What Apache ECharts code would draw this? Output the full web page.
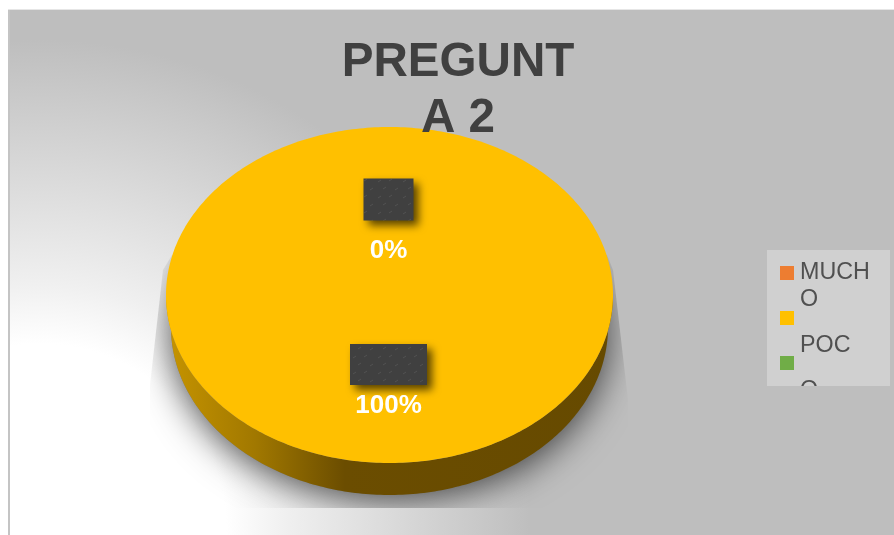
<!DOCTYPE html>
<html><head><meta charset="utf-8">
<style>html,body{margin:0;padding:0;background:#fff}#c{width:894px;height:535px}</style>
<script src="https://cdn.jsdelivr.net/npm/echarts@6/dist/echarts.min.js"></script>
</head><body><div id="c"></div>
<script>
const categories = ['MUCHO', 'POCO'];
const values = [0, 100];
const percentLabels = ['0%', '100%'];
const sliceColors = ['#ED7D31', '#FFC000'];
const legendColors = ['#ED7D31', '#FFC000', '#70AD47'];
const legendLines = ['MUCH', 'O', 'POC', 'O'];
const titleText = 'PREGUNT\nA 2';

const FONT = '"Liberation Sans", Arial, sans-serif';
const G = {cx: 389.5, cy: 295, rx: 223.5, ry: 168, depth: 32, inset: 5};
const LABEL = [
  {w: 50, h: 42, dy: -95.5, ty: -44},
  {w: 77, h: 41, dy: 69.5, ty: 111}
];
const LEGEND = {x: 767, y: 250, w: 123, h: 136, mx: 780, my: [266, 311, 356], ms: 14, tx: 800, tb: [279, 306, 352, 397]};
const total = values.reduce((a, b) => a + b, 0);

function pattern() {
  const c = document.createElement('canvas');
  c.width = 25; c.height = 16;
  const x = c.getContext('2d');
  x.fillStyle = '#404040'; x.fillRect(0, 0, 25, 16);
  x.strokeStyle = '#525252'; x.lineWidth = 1;
  [[3, 4], [14, 3], [8, 11], [20, 12]].forEach(p => {
    x.beginPath(); x.moveTo(p[0], p[1] + 2); x.lineTo(p[0] + 3, p[1]); x.stroke();
  });
  return {image: c, repeat: 'repeat'};
}
const boxFill = pattern();

function arc(a0, a1, dy, inset) {
  const pts = [];
  const n = Math.max(2, Math.ceil(Math.abs(a1 - a0) * 60));
  for (let i = 0; i <= n; i++) {
    const a = a0 + (a1 - a0) * i / n;
    pts.push([G.cx + (G.rx - (inset || 0)) * Math.cos(a), G.cy + dy + G.ry * Math.sin(a)]);
  }
  return pts;
}

function renderShadow() {
  return {
    type: 'polygon',
    shape: {points: arc(0, Math.PI * 2, G.depth, G.inset)},
    style: {fill: '#7a7a7a', shadowBlur: 36, shadowOffsetY: 6, shadowColor: 'rgba(0,0,0,0.68)'},
    clipPath: {type: 'polygon', shape: {points: [[172, 255], [163, 270], [150, 385], [150, 508], [628, 508], [628, 400], [613, 270], [607, 255]]}}
  };
}

function renderSlice(params, api) {
  const i = params.dataIndex;
  let start = -Math.PI / 2;
  for (let k = 0; k < i; k++) start += values[k] / total * Math.PI * 2;
  const v = api.value(1);
  const sweep = v / total * Math.PI * 2;
  const end = start + sweep;
  const children = [];
  if (sweep > 0) {
    const s0 = Math.max(start, 0), s1 = Math.min(end, Math.PI);
    if (s1 > s0) {
      const top = arc(s0, s1, 0), bot = arc(s1, s0, G.depth, G.inset);
      children.push({
        type: 'polygon', shape: {points: top.concat(bot)},
        style: {fill: {type: 'linear', x: G.cx - G.rx, y: 0, x2: G.cx + G.rx, y2: 0, global: true,
          colorStops: [{offset: 0, color: '#C69400'}, {offset: 0.2, color: '#A17800'}, {offset: 0.4, color: '#6B4D00'}, {offset: 1, color: '#664A00'}]}}
      });
    }
    const pts = arc(start, end, 0);
    if (sweep < Math.PI * 2) pts.push([G.cx, G.cy]);
    children.push({type: 'polygon', shape: {points: pts}, style: {fill: sliceColors[i]}});
  }
  const L = LABEL[i];
  children.push({
    type: 'rect', z2: 5,
    shape: {x: G.cx - L.w / 2 - 1, y: G.cy + L.dy - L.h / 2, width: L.w, height: L.h},
    style: {fill: boxFill, shadowBlur: 8, shadowOffsetX: 5, shadowOffsetY: 5, shadowColor: 'rgba(0,0,0,0.65)'}
  });
  children.push({
    type: 'text', z2: 6,
    style: {text: percentLabels[i], x: G.cx - 1, y: G.cy + L.ty, align: 'center', verticalAlign: 'middle',
      font: 'bold 26px ' + FONT, fill: '#fff', shadowBlur: 2, shadowColor: 'rgba(255,255,255,0.6)'}
  });
  return {type: 'group', children};
}

function renderLegend(params) {
  const i = params.dataIndex;
  const L = LEGEND, children = [];
  if (i < legendColors.length) {
    children.push({type: 'rect', shape: {x: L.mx, y: L.my[i], width: L.ms, height: L.ms}, style: {fill: legendColors[i]}});
  }
  if (i < legendLines.length) {
    children.push({type: 'text', style: {text: legendLines[i], x: L.tx, y: L.tb[i] - 6, verticalAlign: 'middle', align: 'left',
      font: '23.3px ' + FONT, fill: '#505050'},
      clipPath: {type: 'rect', shape: {x: L.x, y: L.y, width: L.w, height: L.h}}});
  }
  return {type: 'group', children};
}

const chart = echarts.init(document.getElementById('c'), null, {renderer: 'canvas'});
chart.setOption({
  animation: false,
  backgroundColor: '#fff',
  title: {
    text: titleText, left: 453, top: 30, textAlign: 'center',
    textStyle: {fontFamily: FONT, fontWeight: 'bold', fontSize: 47.6, lineHeight: 56, color: '#404040'}
  },
  graphic: [
    {type: 'rect', z: -2, shape: {x: 10, y: 10, width: 884, height: 525},
      style: {fill: {type: 'radial', x: 40, y: 530, r: 490, global: true,
        colorStops: [{offset: 0, color: '#fff'}, {offset: 0.38, color: '#fff'}, {offset: 0.5, color: '#F0F0F0'}, {offset: 1, color: '#BEBEBE'}]}}},
    {type: 'rect', z: -1, shape: {x: 8, y: 10, width: 2, height: 525}, style: {fill: '#C4C4C4'}},
    {type: 'rect', z: -1, shape: {x: 8, y: 9, width: 886, height: 1}, style: {fill: '#E6E6E6'}},
    {type: 'rect', z: 5, shape: {x: LEGEND.x, y: LEGEND.y, width: LEGEND.w, height: LEGEND.h}, style: {fill: '#D0D0D0'}}
  ],
  series: [
    {type: 'custom', coordinateSystem: 'none', z: 1, silent: true, data: [[0, total]], renderItem: renderShadow},
    {type: 'custom', coordinateSystem: 'none', z: 2, silent: true, data: values.map((v, i) => [i, v]), renderItem: renderSlice},
    {type: 'custom', coordinateSystem: 'none', z: 7, silent: true, data: legendLines.map((t, i) => [i, t]), renderItem: renderLegend}
  ]
});
</script></body></html>
